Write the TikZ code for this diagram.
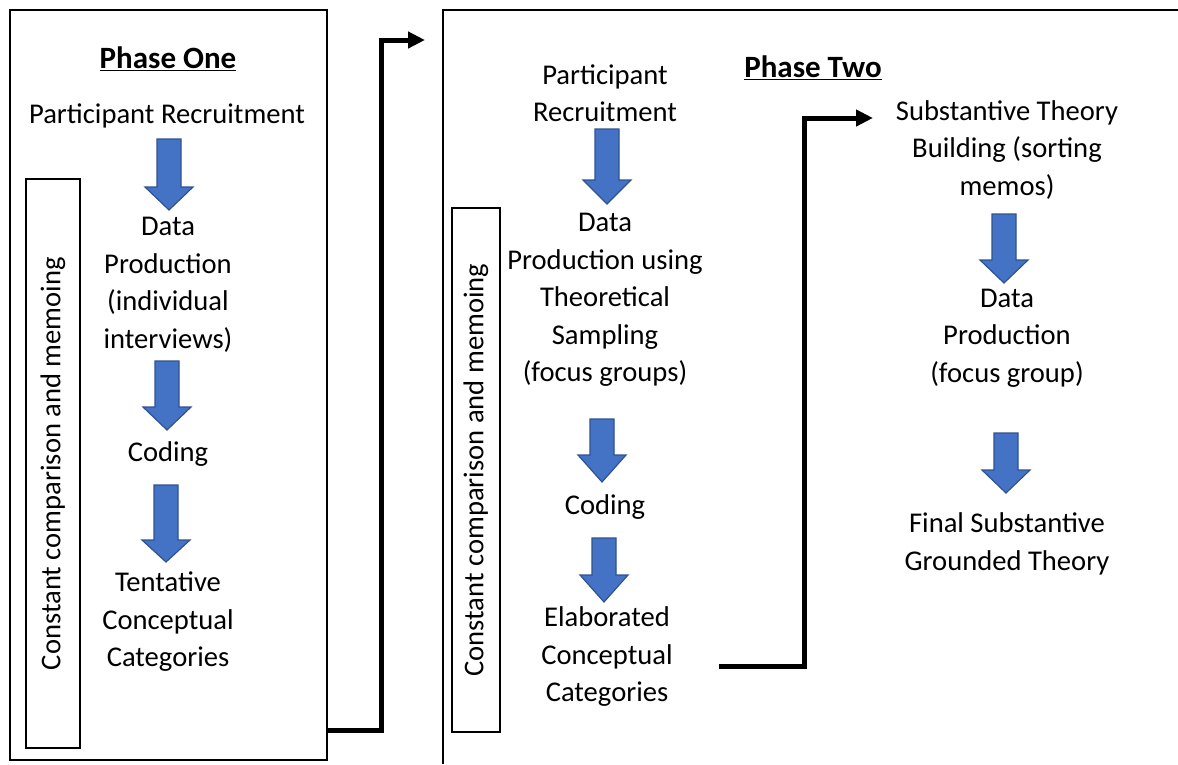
\documentclass[tikz,border=0pt]{standalone}
\usepackage{fontspec}
\setmainfont{Carlito}
\usetikzlibrary{arrows.meta,positioning}

\definecolor{arrowblue}{HTML}{4472C4}
\definecolor{arrowedge}{HTML}{2F528F}

% fat blue arrow: centre x, top, start of head, tip
\newcommand{\bluearrow}[4]{%
  \draw[arrowedge, fill=arrowblue, line width=1.2pt]
    (#1-12,#2) -- (#1+12,#2) -- (#1+12,#3) -- (#1+24,#3) -- (#1,#4)
    -- (#1-24,#3) -- (#1-12,#3) -- cycle;}

\tikzset{
  txt/.style={align=center, inner sep=0pt, font=\fontsize{28.6}{37.5}\selectfont},
  title/.style={txt, font=\fontsize{31}{37.5}\selectfont\bfseries},
  frame/.style={draw, line width=1.8pt, inner sep=0pt},
  sidebox/.style={frame, rotate=90, font=\fontsize{28.6}{37.5}\selectfont},
  flow/.style={line width=5pt, -{Triangle[length=17pt,width=16pt]}}
}

\begin{document}
\begin{tikzpicture}[x=1pt,y=-1pt]
      \useasboundingbox (0,0) rectangle (1178,764);

      % Phase one
      \node[frame, minimum width=317pt, minimum height=750pt] (box1) at (168.5,385) {};
      \node[title] (ph1) at (168,59) {\underline{Phase One}};
      \node[txt] (p1rec) at (167,116) {Participant Recruitment};
      \node[txt] (p1data) at (168,285) {Data\\Production\\(individual\\interviews)};
      \node[txt] (p1cod) at (168,454) {Coding};
      \node[txt] (p1cat) at (168,622) {Tentative\\Conceptual\\Categories};
      \node[sidebox, minimum width=569pt, minimum height=54pt] (side1) at (53,463.5) {Constant comparison and memoing};
      \bluearrow{169}{139}{187}{210}
      \bluearrow{167}{361}{407}{430}
      \bluearrow{166}{485}{540}{562}

      % Phase two
      \draw[line width=1.8pt] (443,764) |- (1178,10);
      \node[title] (ph2) at (813,68) {\underline{Phase Two}};
      \node[txt] (p2rec) at (605,93) {Participant\\Recruitment};
      \node[txt] (p2data) at (605,300) {Data\\Production using\\Theoretical\\Sampling\\(focus groups)};
      \node[txt] (p2cod) at (605,507) {Coding};
      \node[txt] (p2cat) at (607,657) {Elaborated\\Conceptual\\Categories};
      \node[sidebox, minimum width=524pt, minimum height=48pt] (side2) at (476,470) {Constant comparison and memoing};
      \bluearrow{607}{129}{180}{204}
      \bluearrow{602}{419}{455}{482}
      \bluearrow{604}{538}{575}{602}

      % theory building
      \node[txt] (p3theory) at (1007,150) {Substantive Theory\\Building (sorting\\memos)};
      \node[txt] (p3data) at (1007,338) {Data\\Production\\(focus group)};
      \node[txt] (p3final) at (1007,544) {Final Substantive\\Grounded Theory};
      \bluearrow{1004}{214}{260}{283}
      \bluearrow{1006}{433}{470}{493}

      % links between phases
      \coordinate (c1end) at (425,40);
      \coordinate (c2end) at (873,118);
      \draw[flow] ([yshift=30pt]box1.south east) -- ++(54,0) |- (c1end);
      \draw[flow] ([xshift=46pt,yshift=-9pt]p2cat.east) -- ++(86,0) |- (c2end);
\end{tikzpicture}
\end{document}
